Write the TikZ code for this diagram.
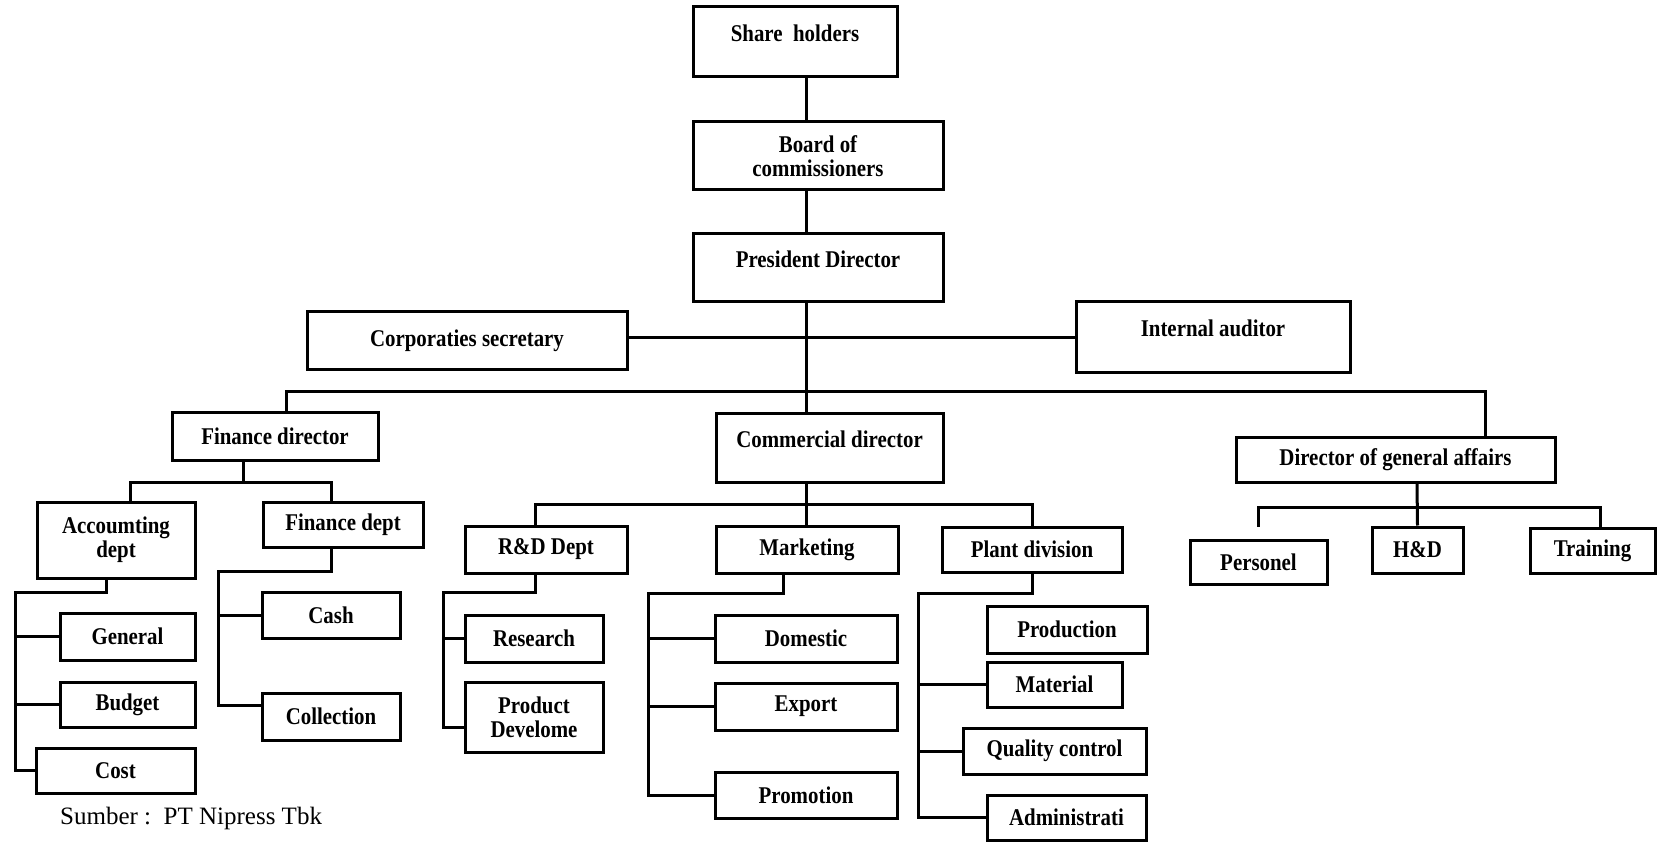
\documentclass[tikz,border=0pt]{standalone}
\usepackage{fontspec}
\setmainfont{Liberation Serif}
\newfontfamily\condserif[FakeStretch=0.87]{Liberation Serif}
\newcommand\boxfont{\condserif\bfseries\fontsize{24}{24}\selectfont}
\newcommand\obox[7][]{\node[box,#1,minimum width={(#5-#3)*1pt},minimum height={(#6-#4)*1pt}] (#2) at ({(#3+#5)/2},{(#4+#6)/2}) {#7};}
\tikzset{
  box/.style={draw, line width=3pt, inner sep=0pt, align=center, font=\boxfont},
  basetext/.style={text height=0pt, text depth=0pt},
  conn/.style={line width=3pt, line join=miter}
}
\begin{document}
\begin{tikzpicture}[x=1pt,y=-1pt]
\useasboundingbox (0,0) rectangle (1657,842);
% top chain
\obox[basetext]{sh}{693}{7}{897}{77}{Share\ \ holders}
\obox{boc}{693}{122}{943}{190}{Board of\\commissioners}
\obox[basetext]{pd}{693}{234}{943}{302}{President Director}
\obox{cs}{307}{312}{627}{369}{Corporaties secretary}
\obox[basetext]{ia}{1076}{302}{1350}{372}{Internal auditor}
% directors
\obox{fd}{172}{412}{378}{460}{Finance director}
\obox[basetext]{cd}{716}{413}{943}{482}{Commercial director}
\obox{ga}{1236}{437}{1555}{482}{Director of general affairs}
% finance
\obox{ad}{37}{502}{195}{578}{Accoumting\\dept}
\obox{fdp}{263}{502}{423}{547}{Finance dept}
\obox{gen}{60}{613}{195}{660}{General}
\obox{bud}{60}{682}{195}{727}{Budget}
\obox{cost}{36}{748}{195}{793}{Cost}
\obox{cash}{262}{592}{400}{638}{Cash}
\obox{col}{262}{693}{400}{740}{Collection}
% commercial
\obox{rd}{465}{526}{627}{573}{R\&D Dept}
\obox{mk}{716}{526}{898}{573}{Marketing}
\obox{pl}{942}{527}{1122}{572}{Plant division}
\obox{res}{465}{615}{603}{662}{Research}
\obox{prod}{465}{682}{603}{752}{Product\\Develome}
\obox{dom}{715}{615}{897}{662}{Domestic}
\obox{exp}{715}{683}{897}{730}{Export}
\obox{prom}{715}{772}{897}{818}{Promotion}
\obox{prodn}{987}{606}{1147}{653}{Production}
\obox{mat}{987}{662}{1122}{707}{Material}
\obox{qc}{963}{728}{1146}{774}{Quality control}
\obox{adm}{987}{795}{1146}{840}{Administrati}
% general affairs
\obox{pers}{1190}{540}{1327}{584}{Personel}
\obox{hd}{1372}{527}{1463}{573}{H\&D}
\obox{tr}{1530}{528}{1655}{573}{Training}
% source
\node[anchor=west, inner sep=0pt, font=\fontsize{25}{25}\selectfont] (src) at (60,818) {Sumber :\ \ PT Nipress Tbk};
% coordinates
\coordinate (tx) at (806,0);
\coordinate (b2) at (806,391);
\coordinate (fdb) at (243,482);
\coordinate (adsp) at (15,592);
\coordinate (fdsp) at (218,571);
\coordinate (cb) at (806,504);
\coordinate (rdsp) at (443,592);
\coordinate (mksp) at (648,593);
\coordinate (plsp) at (918,593);
\coordinate (gab) at (1417,507);
% connectors
\draw[conn] (sh.south -| tx) -- (boc.north -| tx);
\draw[conn] (boc.south -| tx) -- (pd.north -| tx);
\draw[conn] (pd.south -| tx) -- (cd.north -| tx);
\draw[conn] (cs.east |- ia.west) -- (ia.west);
\draw[conn] ([xshift=11pt]fd.north) |- (b2) -| ([xshift=89.5pt]ga.north);
% finance
\draw[conn] ([xshift=-32pt]fd.south) -- (fdb);
\draw[conn] ([xshift=14pt]ad.north) |- (fdb) -| ([xshift=-12pt]fdp.north);
\draw[conn] ([xshift=-10pt]ad.south) |- (adsp) |- (cost.west);
\draw[conn] (adsp |- gen.west) -- (gen.west);
\draw[conn] (adsp |- bud.west) -- (bud.west);
\draw[conn] ([xshift=-12pt]fdp.south) |- (fdsp) |- ([yshift=11pt]col.west);
\draw[conn] (fdsp |- cash.west) -- (cash.west);
% commercial
\draw[conn] (cd.south -| tx) -- (cb);
\draw[conn] ([xshift=-11pt]rd.north) |- (cb) -| (pl.north);
\draw[conn] (cb) -- (mk.north -| cb);
\draw[conn] ([xshift=-11pt]rd.south) |- (rdsp) |- ([yshift=-10pt]prod.west);
\draw[conn] (rdsp |- res.west) -- (res.west);
\draw[conn] ([xshift=-24pt]mk.south) |- (mksp) |- (prom.west);
\draw[conn] (mksp |- dom.west) -- (dom.west);
\draw[conn] (mksp |- exp.west) -- (exp.west);
\draw[conn] (pl.south) |- (plsp) |- (adm.west);
\draw[conn] (plsp |- mat.west) -- (mat.west);
\draw[conn] (plsp |- qc.west) -- (qc.west);
% general affairs
\draw[conn] ([xshift=21.5pt]ga.south) -- (hd.north);
\draw[conn] ([yshift=12pt]pers.north) |- (gab) -| ([xshift=7.5pt]tr.north);
\end{tikzpicture}
\end{document}
